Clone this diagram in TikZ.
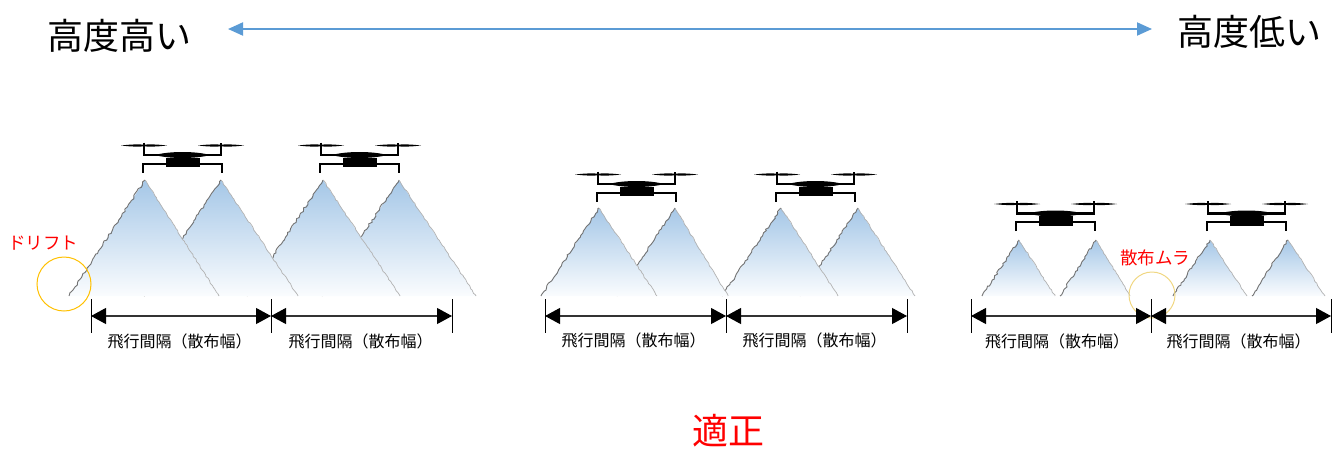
\documentclass[tikz,border=0pt]{standalone}
\usepackage{fontspec}
\setmainfont{Noto Sans CJK JP}
\usetikzlibrary{arrows.meta,decorations.pathmorphing}
\definecolor{toparrow}{RGB}{91,155,213}
\definecolor{sprayTop}{RGB}{165,199,231}
\definecolor{sprayBot}{RGB}{250,252,254}
\definecolor{ringA}{RGB}{255,192,0}
\definecolor{ringB}{RGB}{240,215,130}
\tikzset{
  bigtext/.style={font=\fontsize{36}{36}\selectfont,inner sep=0pt},
  redtext/.style={font=\fontsize{17.5}{18}\selectfont,text=red,inner sep=0pt},
  dimtext/.style={font=\fontsize{16}{16}\selectfont,inner sep=0pt},
  spanarrow/.style={draw=toparrow,line width=2pt,{Triangle[length=15pt,width=13pt]}-{Triangle[length=15pt,width=13pt]}},
  dimline/.style={draw=black!80,line width=1.1pt,{Triangle[length=15pt,width=16pt,color=black]}-{Triangle[length=15pt,width=16pt,color=black]}},
  dimtick/.style={draw=black,line width=1pt},
  jagL/.style={draw=black!55,line width=.9pt,decorate,decoration={random steps,segment length=2.6pt,amplitude=1pt}},
  jagR/.style={draw=black!30,line width=.7pt,decorate,decoration={random steps,segment length=2.6pt,amplitude=.6pt}},
  ring/.style={draw=ringA,line width=1pt,circle,inner sep=0pt},
}
% apex x, apex y, left base x, right base x
\newcommand{\sprayCone}[4]{%
  \shade[top color=sprayTop,bottom color=sprayBot] (#3,296) -- (#1,#2) -- (#4,296) -- cycle;
  \draw[jagL] (#3,296) -- (#1,#2);
  \draw[jagR] (#1,#2) -- (#4,296);
}
% left arm x, top y
\newcommand{\droneShape}[2]{%
  \begin{scope}[shift={(#1,#2)}]
    \fill[black] (-23,2) .. controls (-12,.7) and (-4,.7) .. (0,1.2) -- (0,2.8) .. controls (-4,3.3) and (-12,3.3) .. (-23,2) -- cycle;
    \fill[black] (23,2) .. controls (12,.7) and (4,.7) .. (0,1.2) -- (0,2.8) .. controls (4,3.3) and (12,3.3) .. (23,2) -- cycle;
    \fill[black] (54,2) .. controls (65,.7) and (73,.7) .. (77,1.2) -- (77,2.8) .. controls (73,3.3) and (65,3.3) .. (54,2) -- cycle;
    \fill[black] (100,2) .. controls (89,.7) and (81,.7) .. (77,1.2) -- (77,2.8) .. controls (81,3.3) and (89,3.3) .. (100,2) -- cycle;
    \draw[black,line width=2.6pt] (0,-1) -- (0,11.5) -- (77,11.5) -- (77,-1);
    \fill[black] (11,11.5) .. controls (25,7.5) and (52,7.5) .. (66,11.5) .. controls (52,15.5) and (25,15.5) .. (11,11.5) -- cycle;
    \fill[black] (22,14) rectangle (56,23.5);
    \draw[black,line width=2pt] (-1,29) -- (-1,20) -- (78,20) -- (78,29);
  \end{scope}}
\begin{document}
\begin{tikzpicture}[x=1pt,y=-1pt]
\useasboundingbox (0,0) rectangle (1344,448);
\pgfmathsetseed{7}
% cones (rightmost first so that left ones overlap)
\sprayCone{399}{180}{322}{476}
\sprayCone{323}{180}{247}{400}
\sprayCone{221}{180}{144}{298}
\sprayCone{145}{180}{69}{219}
\sprayCone{858}{208}{800}{915}
\sprayCone{781}{208}{722}{838}
\sprayCone{675}{208}{617}{728}
\sprayCone{599}{208}{541}{657}
\sprayCone{1288}{240}{1252}{1325}
\sprayCone{1210}{240}{1173}{1247}
\sprayCone{1096}{240}{1060}{1130}
\sprayCone{1019}{240}{982}{1055}
% drones
\droneShape{144}{143.5}
\droneShape{321}{143.5}
\droneShape{598}{172.5}
\droneShape{777}{172.5}
\droneShape{1017}{202}
\droneShape{1208}{202}
% titles and top arrow
\node[bigtext] (hi) at (119.5,36) {高度高い};
\node[bigtext] (lo) at (1249,32) {高度低い};
\node[bigtext,text=red] (ok) at (728,431) {適正};
\coordinate (arL) at (228,29);
\coordinate (arR) at (1152,29);
\draw[spanarrow] (arL) -- (arR);
% rings and red labels
\node[ring,minimum size=54pt] (r1) at (64,284) {};
\node[ring,draw=ringB,minimum size=46pt] (r2) at (1152,295) {};
\node[redtext] (drift) at (43.5,243) {ドリフト};
\node[redtext] (mura) at (1155,258) {散布ムラ};
% dimension lines
\foreach \n/\ax/\bx in {a/91/271,b/271/452,c/545/726,d/726/907,e/971/1151,f/1151/1331}{
  \coordinate (\n1) at (\ax,316);
  \coordinate (\n2) at (\bx,316);
  \draw[dimline] (\n1) -- (\n2);
  \draw[dimtick] (\n1) ++(0,-17) -- ++(0,34);
  \draw[dimtick] (\n2) ++(0,-17) -- ++(0,34);
}
\node[dimtext] (la) at (179.5,341) {飛行間隔（散布幅）};
\node[dimtext] (lb) at (360.5,341) {飛行間隔（散布幅）};
\node[dimtext] (lc) at (633.5,340) {飛行間隔（散布幅）};
\node[dimtext] (ld) at (814.5,340) {飛行間隔（散布幅）};
\node[dimtext] (le) at (1057,341) {飛行間隔（散布幅）};
\node[dimtext] (lf) at (1238.5,341) {飛行間隔（散布幅）};
\end{tikzpicture}
\end{document}
